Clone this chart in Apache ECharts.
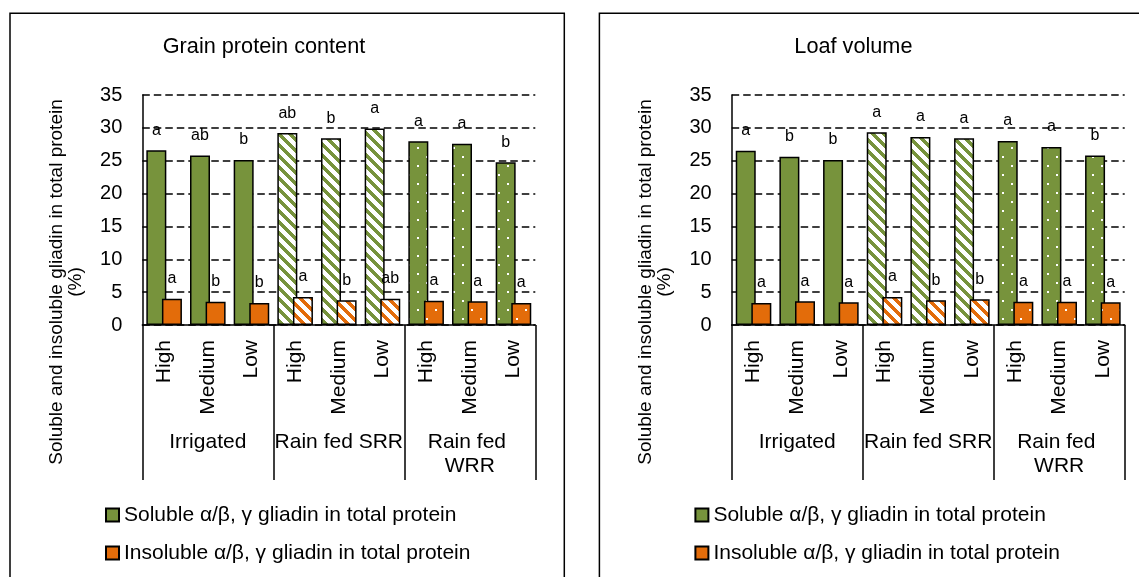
<!DOCTYPE html>
<html>
<head>
<meta charset="utf-8">
<script src="https://cdn.jsdelivr.net/npm/echarts@6/dist/echarts.min.js"></script>
<style>
html,body{margin:0;padding:0;background:#fff;}
#chart{width:1139px;height:577px;}
</style>
</head>
<body>
<div id="chart"></div>
<script>
// ---------- data ----------
const groups = ['Irrigated', 'Rain fed SRR', 'Rain fed WRR'];
const levels = ['High', 'Medium', 'Low'];
const categories = ['High', 'Medium', 'Low', 'High', 'Medium', 'Low', 'High', 'Medium', 'Low'];
const yTicks = [0, 5, 10, 15, 20, 25, 30, 35];

const gpcSoluble   = [26.6, 25.8, 25.1, 29.2, 28.4, 29.9, 27.95, 27.6, 24.75];
const gpcInsoluble = [4.0, 3.55, 3.35, 4.26, 3.75, 4.0, 3.7, 3.6, 3.35];
const gpcSolLetters = ['a', 'ab', 'b', 'ab', 'b', 'a', 'a', 'a', 'b'];
const gpcInsLetters = ['a', 'b', 'b', 'a', 'b', 'ab', 'a', 'a', 'a'];

const lvSoluble   = [26.5, 25.6, 25.1, 29.35, 28.6, 28.4, 28.0, 27.1, 25.8];
const lvInsoluble = [3.35, 3.6, 3.45, 4.26, 3.75, 3.9, 3.55, 3.55, 3.45];
const lvSolLetters = ['a', 'b', 'b', 'a', 'a', 'a', 'a', 'a', 'b'];
const lvInsLetters = ['a', 'a', 'a', 'a', 'b', 'b', 'a', 'a', 'a'];

const seriesNames = ['Soluble α/β, γ gliadin in total protein', 'Insoluble α/β, γ gliadin in total protein'];
const panelTitles = ['Grain protein content', 'Loaf volume'];
const yTitle = 'Soluble and insoluble gliadin in total protein\n(%)';

// ---------- styles ----------
const FONT = '"Liberation Sans", Arial, sans-serif';
const GREEN = '#77933C';
const ORANGE = '#E36C0A';

function stripeTile(color) {
  const n = 11, c = document.createElement('canvas');
  c.width = n; c.height = n;
  const ctx = c.getContext('2d');
  ctx.fillStyle = '#fff'; ctx.fillRect(0, 0, n, n);
  ctx.fillStyle = color;
  for (let y = 0; y < n; y++) {
    for (let x = 0; x < n; x++) {
      const d = ((x - y) % n + n) % n;
      if (d < 5) ctx.fillRect(x, y, 1, 1);
    }
  }
  return { image: c, repeat: 'repeat' };
}
function dotTile(color) {
  const n = 18, c = document.createElement('canvas');
  c.width = n; c.height = n;
  const ctx = c.getContext('2d');
  ctx.fillStyle = color; ctx.fillRect(0, 0, n, n);
  ctx.fillStyle = '#fff';
  ctx.fillRect(3, 3, 2, 2);
  ctx.fillRect(12, 12, 2, 2);
  return { image: c, repeat: 'repeat' };
}
const fills = {
  green: [GREEN, stripeTile(GREEN), dotTile(GREEN)],
  orange: [ORANGE, stripeTile(ORANGE), dotTile(ORANGE)]
};

const PANEL_DX = 589.4;
const gridBase = { left: 142.3, top: 95, width: 393, height: 230 };

function makeSeries(name, values, letters, colorKey, axisIdx, gridIdx) {
  return {
    type: 'bar',
    name: name,
    xAxisIndex: axisIdx,
    yAxisIndex: gridIdx,
    barWidth: 20,
    barGap: '-22%',
    itemStyle: { color: colorKey === 'green' ? GREEN : ORANGE, borderColor: '#000', borderWidth: 1.5 },
    label: {
      show: true, position: 'top', distance: 12,
      color: '#000', fontSize: 16, lineHeight: 16, fontFamily: FONT,
      formatter: p => letters[p.dataIndex]
    },
    data: values.map((v, i) => ({ value: v, itemStyle: { color: fills[colorKey][Math.floor(i / 3)] } })),
    animation: false
  };
}

const grids = [], xAxes = [], yAxes = [], series = [], graphics = [], legends = [];
const panels = [
  { sol: gpcSoluble, ins: gpcInsoluble, sl: gpcSolLetters, il: gpcInsLetters },
  { sol: lvSoluble, ins: lvInsoluble, sl: lvSolLetters, il: lvInsLetters }
];
panels.forEach((p, k) => {
  const dx = k * PANEL_DX;
  grids.push({ left: gridBase.left + dx, top: gridBase.top, width: gridBase.width, height: gridBase.height });
  xAxes.push({
    type: 'category', gridIndex: k, data: categories, position: 'bottom',
    axisLine: { show: true, lineStyle: { color: '#000', width: 1.5 } },
    axisTick: { show: false },
    axisLabel: { interval: 0, rotate: 90, margin: 15, color: '#000', fontSize: 21, fontFamily: FONT }
  });
  xAxes.push({
    type: 'category', gridIndex: k, data: groups, position: 'bottom',
    axisLine: { show: false },
    axisTick: { show: true, length: 155, interval: 0, lineStyle: { color: '#000', width: 1.5 } },
    axisLabel: { interval: 0, margin: 105, color: '#000', fontSize: 21, fontFamily: FONT,
                 width: 131, overflow: 'break', lineHeight: 24 }
  });
  yAxes.push({
    type: 'value', gridIndex: k, min: 0, max: 35, interval: 5,
    axisLine: { show: true, lineStyle: { color: '#000', width: 1.5 } },
    axisTick: { show: false },
    axisLabel: { margin: 20, color: '#000', fontSize: 20, fontFamily: FONT },
    splitLine: { show: true, lineStyle: { color: '#000', width: 1.5, type: [7.5, 4] } }
  });
  series.push(makeSeries(seriesNames[0], p.sol, p.sl, 'green', 2 * k, k));
  series.push(makeSeries(seriesNames[1], p.ins, p.il, 'orange', 2 * k, k));
  legends.push({
    orient: 'vertical', left: 105 + dx, top: 503, padding: 0,
    itemWidth: 13, itemHeight: 13, itemGap: 14,
    textStyle: { color: '#000', fontSize: 21, lineHeight: 24, fontFamily: FONT },
    data: seriesNames.map(n => ({ name: n, icon: 'rect' })),
    selectedMode: false
  });
  graphics.push({
    type: 'rect', shape: { x: 10 + dx, y: 13.3, width: 554.3, height: 620 },
    style: { fill: 'none', stroke: '#000', lineWidth: 1.5 }, silent: true
  });
  graphics.push({
    type: 'text', x: 264 + dx, y: 47,
    style: { text: panelTitles[k], font: '21.7px ' + FONT, fill: '#000',
             align: 'center', verticalAlign: 'middle', textAlign: 'center', textVerticalAlign: 'middle' }
  });
  graphics.push({
    type: 'text', x: 66 + dx, y: 282, rotation: Math.PI / 2,
    style: { text: yTitle, font: '19px ' + FONT, fill: '#000', lineHeight: 19,
             align: 'center', verticalAlign: 'middle', textAlign: 'center', textVerticalAlign: 'middle' }
  });
});

const chart = echarts.init(document.getElementById('chart'), null, { renderer: 'canvas' });
chart.setOption({
  animation: false,
  backgroundColor: '#fff',
  grid: grids,
  xAxis: xAxes,
  yAxis: yAxes,
  legend: legends,
  series: series,
  graphic: { elements: graphics }
});
</script>
</body>
</html>
